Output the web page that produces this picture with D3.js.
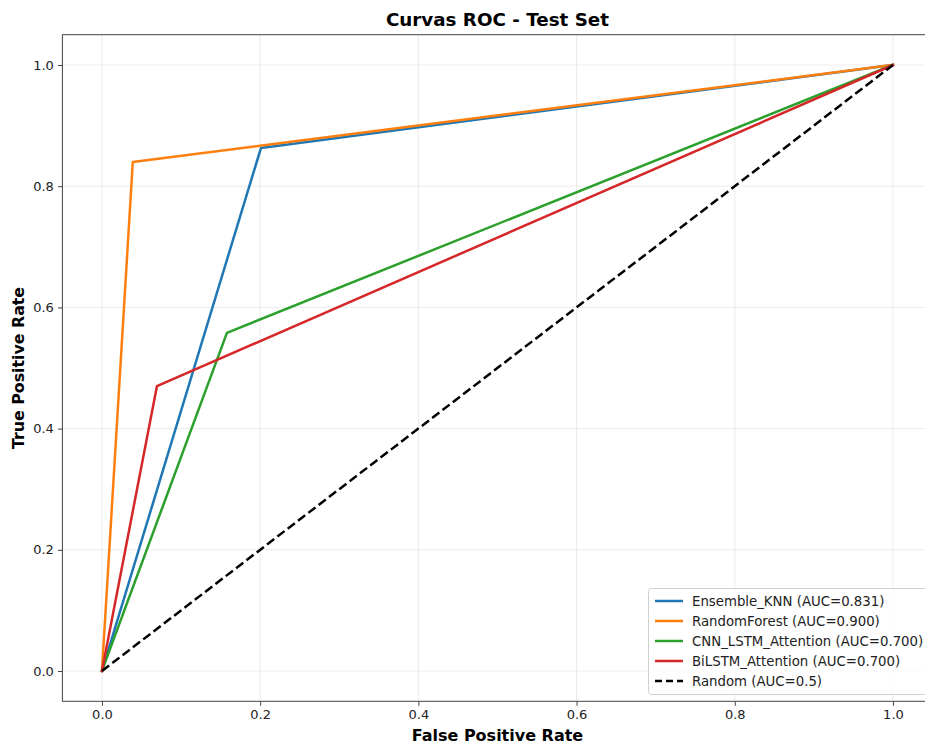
<!DOCTYPE html>
<html>
<head>
<meta charset="utf-8">
<script src="https://cdn.jsdelivr.net/npm/d3@7"></script>
<style>
  body { margin: 0; background: #fff; }
  svg { display: block; font-family: "DejaVu Sans", sans-serif; }
</style>
</head>
<body>
<svg id="chart" width="925" height="744"></svg>
<script>
// ROC curves on the test set: each model has one operating point between (0,0) and (1,1)
const models = ["Ensemble_KNN", "RandomForest", "CNN_LSTM_Attention", "BiLSTM_Attention"];
const aucLabels = ["0.831", "0.900", "0.700", "0.700"];
const colors = ["#1f77b4", "#ff7f0e", "#2ca02c", "#d62728"];
const fprValues = [
  [0, 0.201, 1],
  [0, 0.039, 1],
  [0, 0.158, 1],
  [0, 0.0695, 1]
];
const tprValues = [
  [0, 0.863, 1],
  [0, 0.840, 1],
  [0, 0.558, 1],
  [0, 0.470, 1]
];
const randomFpr = [0, 1];
const randomTpr = [0, 1];
const xTicks = [0.0, 0.2, 0.4, 0.6, 0.8, 1.0];
const yTicks = [0.0, 0.2, 0.4, 0.6, 0.8, 1.0];

const svg = d3.select("#chart");
const plot = { left: 62.4, right: 932.5, top: 34.7, bottom: 701.3 };

const x = d3.scaleLinear().domain([-0.05, 1.05]).range([plot.left, plot.right]);
const y = d3.scaleLinear().domain([-0.05, 1.05]).range([plot.bottom, plot.top]);

// grid
const grid = svg.append("g");
grid.selectAll("line.vx").data(xTicks).join("line")
  .attr("x1", d => x(d)).attr("x2", d => x(d))
  .attr("y1", plot.top).attr("y2", plot.bottom)
  .attr("stroke", "#b0b0b0").attr("stroke-opacity", 0.3).attr("stroke-width", 0.8);
grid.selectAll("line.hy").data(yTicks).join("line")
  .attr("y1", d => y(d)).attr("y2", d => y(d))
  .attr("x1", plot.left).attr("x2", plot.right)
  .attr("stroke", "#b0b0b0").attr("stroke-opacity", 0.3).attr("stroke-width", 0.8);

// axes
const xAxis = d3.axisBottom(x).tickValues(xTicks).tickFormat(d3.format(".1f")).tickSize(4.5).tickPadding(4);
const yAxis = d3.axisLeft(y).tickValues(yTicks).tickFormat(d3.format(".1f")).tickSize(4.5).tickPadding(4);

const gx = svg.append("g").attr("transform", `translate(0,${plot.bottom})`).call(xAxis);
const gy = svg.append("g").attr("transform", `translate(${plot.left},0)`).call(yAxis);
[gx, gy].forEach(g => {
  g.select(".domain").remove();
  g.selectAll("line").attr("stroke", "#444").attr("stroke-width", 1);
  g.selectAll("text").attr("font-size", 13).attr("fill", "#222").attr("font-family", "DejaVu Sans, sans-serif");
});

// curves
const line = d3.line().x(d => x(d[0])).y(d => y(d[1]));
const curves = svg.append("g");
models.forEach((m, i) => {
  const pts = fprValues[i].map((f, j) => [f, tprValues[i][j]]);
  curves.append("path").datum(pts)
    .attr("d", line).attr("fill", "none")
    .attr("stroke", colors[i]).attr("stroke-width", 2.5)
    .attr("stroke-linejoin", "round").attr("stroke-linecap", "square");
});
curves.append("path").datum(randomFpr.map((f, j) => [f, randomTpr[j]]))
  .attr("d", line).attr("fill", "none")
  .attr("stroke", "#000").attr("stroke-width", 2.5)
  .attr("stroke-dasharray", "9,4");

// spines
svg.append("rect")
  .attr("x", plot.left).attr("y", plot.top)
  .attr("width", plot.right - plot.left).attr("height", plot.bottom - plot.top)
  .attr("fill", "none").attr("stroke", "#444").attr("stroke-width", 1);

// title and axis labels
svg.append("text").attr("x", (plot.left + plot.right) / 2).attr("y", 26)
  .attr("text-anchor", "middle").attr("font-size", 18.3).attr("font-weight", "bold")
  .text("Curvas ROC - Test Set");
svg.append("text").attr("x", (plot.left + plot.right) / 2).attr("y", 741)
  .attr("text-anchor", "middle").attr("font-size", 16).attr("font-weight", "bold")
  .text("False Positive Rate");
svg.append("text")
  .attr("transform", `translate(23.5,${(plot.top + plot.bottom) / 2}) rotate(-90)`)
  .attr("text-anchor", "middle").attr("font-size", 15.8).attr("font-weight", "bold")
  .text("True Positive Rate");

// legend
const legendEntries = models.map((m, i) => ({ label: `${m} (AUC=${aucLabels[i]})`, color: colors[i], dash: null }))
  .concat([{ label: "Random (AUC=0.5)", color: "#000", dash: "7,4" }]);
const lg = svg.append("g");
lg.append("rect")
  .attr("x", 648.5).attr("y", 588.5).attr("width", 280).attr("height", 106)
  .attr("rx", 3).attr("fill", "#fff").attr("fill-opacity", 0.8)
  .attr("stroke", "#d0d0d0").attr("stroke-width", 1);
legendEntries.forEach((e, i) => {
  const cy = 601 + i * 20;
  lg.append("line").attr("x1", 655).attr("x2", 683).attr("y1", cy).attr("y2", cy)
    .attr("stroke", e.color).attr("stroke-width", 2.5)
    .attr("stroke-dasharray", e.dash);
  lg.append("text").attr("x", 692).attr("y", cy + 4.6)
    .attr("font-size", 13.3).attr("fill", "#222").text(e.label);
});
</script>
</body>
</html>
